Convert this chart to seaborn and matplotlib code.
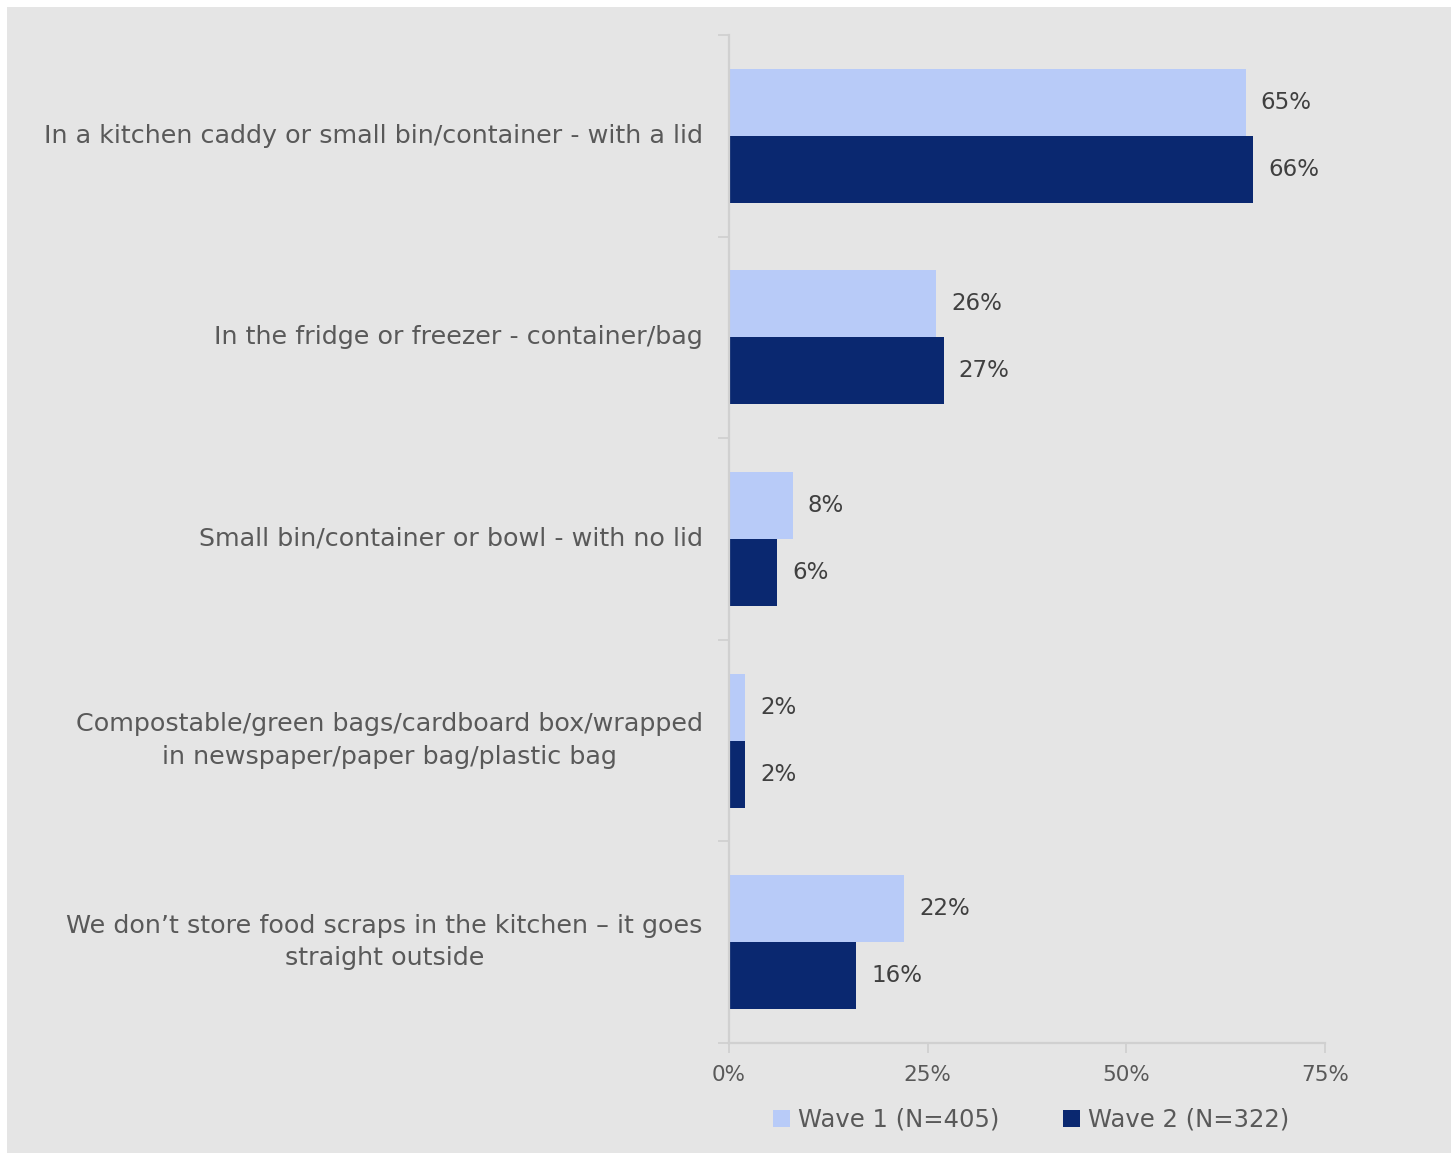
import matplotlib
matplotlib.use("Agg")
import matplotlib.pyplot as plt
import seaborn as sns
import pandas as pd
from matplotlib.patches import Rectangle
from matplotlib.ticker import FixedLocator

categories = [
    "In a kitchen caddy or small bin/container - with a lid",
    "In the fridge or freezer - container/bag",
    "Small bin/container or bowl - with no lid",
    "Compostable/green bags/cardboard box/wrapped\nin newspaper/paper bag/plastic bag",
    "We don\u2019t store food scraps in the kitchen \u2013 it goes\nstraight outside",
]
wave1 = [65, 26, 8, 2, 22]
wave2 = [66, 27, 6, 2, 16]
series_names = ["Wave 1 (N=405)", "Wave 2 (N=322)"]
xticks = [0, 25, 50, 75]

df = pd.DataFrame({
    "category": categories * 2,
    "value": wave1 + wave2,
    "wave": [series_names[0]] * len(categories) + [series_names[1]] * len(categories),
})

BG = "#e5e5e5"
TEXT = "#595959"
LINE = "#d0d0d0"
palette = {series_names[0]: "#b8cbf8", series_names[1]: "#0a2870"}

sns.set_style("white")
plt.rcParams["font.family"] = ["DejaVu Sans"]

fig = plt.figure(figsize=(14.51, 11.53), dpi=100, facecolor="white")
fig.patches.append(Rectangle((7 / 1451, 0), 1 - 7 / 1451, 1 - 7 / 1153,
                             transform=fig.transFigure, facecolor=BG,
                             edgecolor="none", zorder=-10))

ax = fig.add_axes([729 / 1451, 1 - 1043 / 1153, (1325 - 729) / 1451, (1043 - 35) / 1153])
ax.set_facecolor("none")

sns.barplot(data=df, y="category", x="value", hue="wave", orient="h",
            palette=palette, width=0.665, saturation=1, ax=ax, legend=False,
            linewidth=0)

ax.set_xlim(0, 75)
ax.set_ylim(len(categories) - 0.5, -0.5)
ax.set_xlabel("")
ax.set_ylabel("")

# value labels
for cont in ax.containers:
    ax.bar_label(cont, labels=[f"{v:.0f}%" for v in cont.datavalues],
                 padding=11, fontsize=16.5, color="#404040")

ax.set_xticks(xticks)
ax.set_xticklabels([f"{t}%" for t in xticks], fontsize=15.5, color=TEXT)
ax.tick_params(axis="x", length=7, width=1.3, color=LINE, pad=9, bottom=True)

# category labels at centres, ticks between categories
ax.set_yticks(range(len(categories)))
ax.set_yticklabels(categories, fontsize=18.3, color=TEXT, ha="right", va="center",
                   multialignment="center", linespacing=1.45)
ax.tick_params(axis="y", length=0, pad=19)
ax.yaxis.set_minor_locator(FixedLocator([i - 0.5 for i in range(len(categories) + 1)]))
ax.tick_params(axis="y", which="minor", length=8, width=1.3, color=LINE, left=True)

for side in ["top", "right"]:
    ax.spines[side].set_visible(False)
for side in ["left", "bottom"]:
    ax.spines[side].set_color(LINE)
    ax.spines[side].set_linewidth(1.6)

# legend
handles = [Rectangle((0, 0), 1, 1, facecolor=palette[n], edgecolor="none") for n in series_names]
fig.legend(handles, series_names, loc="center", bbox_to_anchor=(1031 / 1451, 1 - 1120 / 1153),
           ncol=2, frameon=False, fontsize=17.5, labelcolor=TEXT, handlelength=0.7,
           handleheight=0.7, handletextpad=0.35, columnspacing=2.6)

fig.savefig("out.png", dpi=100, facecolor="white")
